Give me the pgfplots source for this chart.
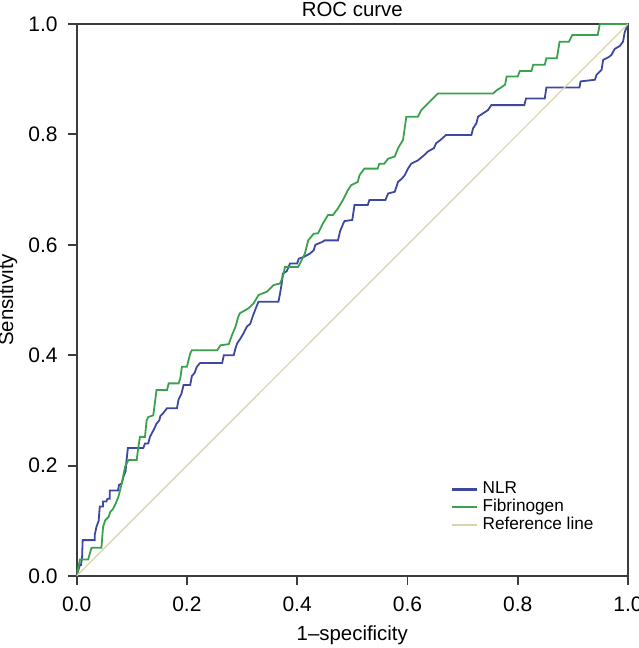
\documentclass[border=0pt]{standalone}
\usepackage{pgfplots}
\pgfplotsset{compat=1.18}
\usepackage{fontspec}
\setmainfont{Liberation Sans}
\definecolor{nlr}{RGB}{62,72,160}
\definecolor{fib}{RGB}{58,162,76}
\definecolor{refl}{RGB}{218,212,170}
\definecolor{axc}{RGB}{60,60,60}
\begin{document}
\begin{tikzpicture}
\begin{axis}[
  scale only axis,
  width=275.7pt, height=276pt,
  xmin=0, xmax=1, ymin=0, ymax=1,
  xtick={0,0.2,0.4,0.6,0.8,1.0},
  ytick={0,0.2,0.4,0.6,0.8,1.0},
  tick align=outside,
  xtick pos=bottom, ytick pos=left,
  major tick length=4.5pt,
  every tick/.style={axc, line width=0.9pt},
  axis line style={axc, line width=1pt},
  /pgf/number format/.cd, fixed, fixed zerofill, precision=1, assume math mode=true,
  /pgfplots/.cd,
  ticklabel style={font=\fontsize{10.5}{12}\selectfont},
  xticklabel style={yshift=-2.5pt},
  yticklabel style={xshift=-1.5pt},
  xlabel={1--specificity},
  ylabel={Sensitivity},
  label style={font=\fontsize{10.2}{12}\selectfont},
  xlabel style={at={(axis description cs:0.5,-0.107)}, anchor=center},
  ylabel style={at={(axis description cs:-0.1245,0.5)}, anchor=center},
  title={ROC curve},
  title style={font=\fontsize{10.2}{12}\selectfont, at={(axis description cs:0.5,1)}, anchor=south, yshift=-6pt},
  legend style={draw=none, fill=none, at={(0.675,0.182)}, anchor=north west,
    font=\fontsize{8.6}{9}\selectfont, row sep=-2.7pt, inner sep=1pt},
  legend cell align=left,
  legend image code/.code={\draw[#1, line width=1.2pt] (0pt,0pt) -- (12.5pt,0pt);},
]
\coordinate (O) at (rel axis cs:0,0);
\coordinate (T) at (rel axis cs:1,1);
\addplot[nlr, line width=0.9pt] coordinates {
(0,0) (0.003,0.01) (0.006,0.02) (0.008,0.02) (0.010,0.035) (0.011,0.065)
(0.033,0.065) (0.033,0.075) (0.036,0.089) (0.040,0.100) (0.042,0.126)
(0.048,0.126) (0.048,0.135) (0.054,0.135) (0.056,0.14) (0.060,0.14)
(0.060,0.155) (0.075,0.155) (0.077,0.165) (0.082,0.168) (0.085,0.18)
(0.089,0.19) (0.090,0.205) (0.092,0.222) (0.093,0.232) (0.121,0.232)
(0.124,0.24) (0.130,0.24) (0.133,0.252) (0.136,0.258) (0.140,0.265)
(0.145,0.276) (0.150,0.282) (0.152,0.290) (0.158,0.296) (0.164,0.304)
(0.182,0.304) (0.185,0.32) (0.190,0.33) (0.194,0.346) (0.206,0.346)
(0.209,0.362) (0.214,0.368) (0.218,0.379) (0.224,0.386) (0.264,0.386)
(0.267,0.400) (0.285,0.400) (0.288,0.412) (0.291,0.421) (0.297,0.430)
(0.303,0.44) (0.309,0.452) (0.315,0.457) (0.320,0.472) (0.327,0.490)
(0.330,0.497) (0.366,0.497) (0.369,0.512) (0.372,0.53) (0.374,0.548)
(0.381,0.552) (0.387,0.566) (0.400,0.566) (0.403,0.575) (0.412,0.578)
(0.423,0.584) (0.430,0.590) (0.433,0.600) (0.445,0.605) (0.45,0.608)
(0.474,0.608) (0.478,0.625) (0.483,0.637) (0.486,0.643) (0.500,0.645)
(0.504,0.672) (0.528,0.672) (0.531,0.681) (0.560,0.681) (0.565,0.693)
(0.577,0.696) (0.583,0.714) (0.590,0.72) (0.595,0.726) (0.601,0.738)
(0.607,0.747) (0.619,0.753) (0.631,0.763) (0.637,0.769) (0.648,0.775)
(0.652,0.784) (0.660,0.79) (0.670,0.799) (0.716,0.799) (0.719,0.811)
(0.725,0.82) (0.728,0.832) (0.737,0.838) (0.746,0.844) (0.752,0.853)
(0.812,0.853) (0.815,0.865) (0.849,0.865) (0.852,0.885) (0.912,0.885)
(0.914,0.896) (0.940,0.899) (0.943,0.908) (0.952,0.917) (0.955,0.935)
(0.965,0.94) (0.970,0.944) (0.976,0.955) (0.985,0.960) (0.991,0.968)
(0.994,0.985) (1,1)
};
\addlegendentry{NLR}
\addplot[fib, line width=0.9pt] coordinates {
(0,0) (0.003,0.014) (0.006,0.03) (0.021,0.03) (0.024,0.041) (0.027,0.051)
(0.045,0.051) (0.048,0.089) (0.052,0.101) (0.058,0.107) (0.061,0.116)
(0.065,0.12) (0.070,0.129) (0.076,0.144) (0.082,0.168) (0.088,0.198)
(0.094,0.21) (0.109,0.21) (0.112,0.234) (0.115,0.252) (0.124,0.252)
(0.127,0.282) (0.130,0.288) (0.139,0.291) (0.145,0.337) (0.164,0.337)
(0.167,0.349) (0.185,0.349) (0.188,0.358) (0.191,0.379) (0.200,0.379)
(0.206,0.403) (0.209,0.409) (0.255,0.409) (0.261,0.418) (0.276,0.42)
(0.282,0.437) (0.288,0.451) (0.293,0.469) (0.296,0.476) (0.312,0.485)
(0.321,0.494) (0.330,0.509) (0.345,0.515) (0.357,0.527) (0.369,0.53)
(0.374,0.542) (0.378,0.56) (0.402,0.56) (0.408,0.572) (0.414,0.584)
(0.420,0.608) (0.430,0.620) (0.438,0.621) (0.447,0.639) (0.456,0.654)
(0.465,0.654) (0.474,0.666) (0.483,0.681) (0.492,0.699) (0.498,0.708)
(0.510,0.714) (0.513,0.726) (0.522,0.738) (0.546,0.738) (0.549,0.747)
(0.558,0.747) (0.565,0.756) (0.577,0.76) (0.583,0.775) (0.592,0.79)
(0.598,0.832) (0.619,0.832) (0.625,0.844) (0.637,0.856) (0.646,0.865)
(0.655,0.874) (0.755,0.874) (0.762,0.88) (0.770,0.885) (0.777,0.89)
(0.780,0.905) (0.800,0.905) (0.804,0.915) (0.825,0.915) (0.828,0.926)
(0.849,0.926) (0.852,0.938) (0.871,0.938) (0.876,0.968) (0.893,0.968)
(0.899,0.98) (0.945,0.98) (0.949,1.0) (1,1)
};
\addlegendentry{Fibrinogen}
\addplot[refl, line width=0.6pt] coordinates {(0,0) (1,1)};
\addlegendentry{Reference line}
\end{axis}
\pgfresetboundingbox
\path[use as bounding box] ([xshift=-38.3pt,yshift=-36pt]O) rectangle ([xshift=5pt,yshift=12pt]T);
\end{tikzpicture}
\end{document}
